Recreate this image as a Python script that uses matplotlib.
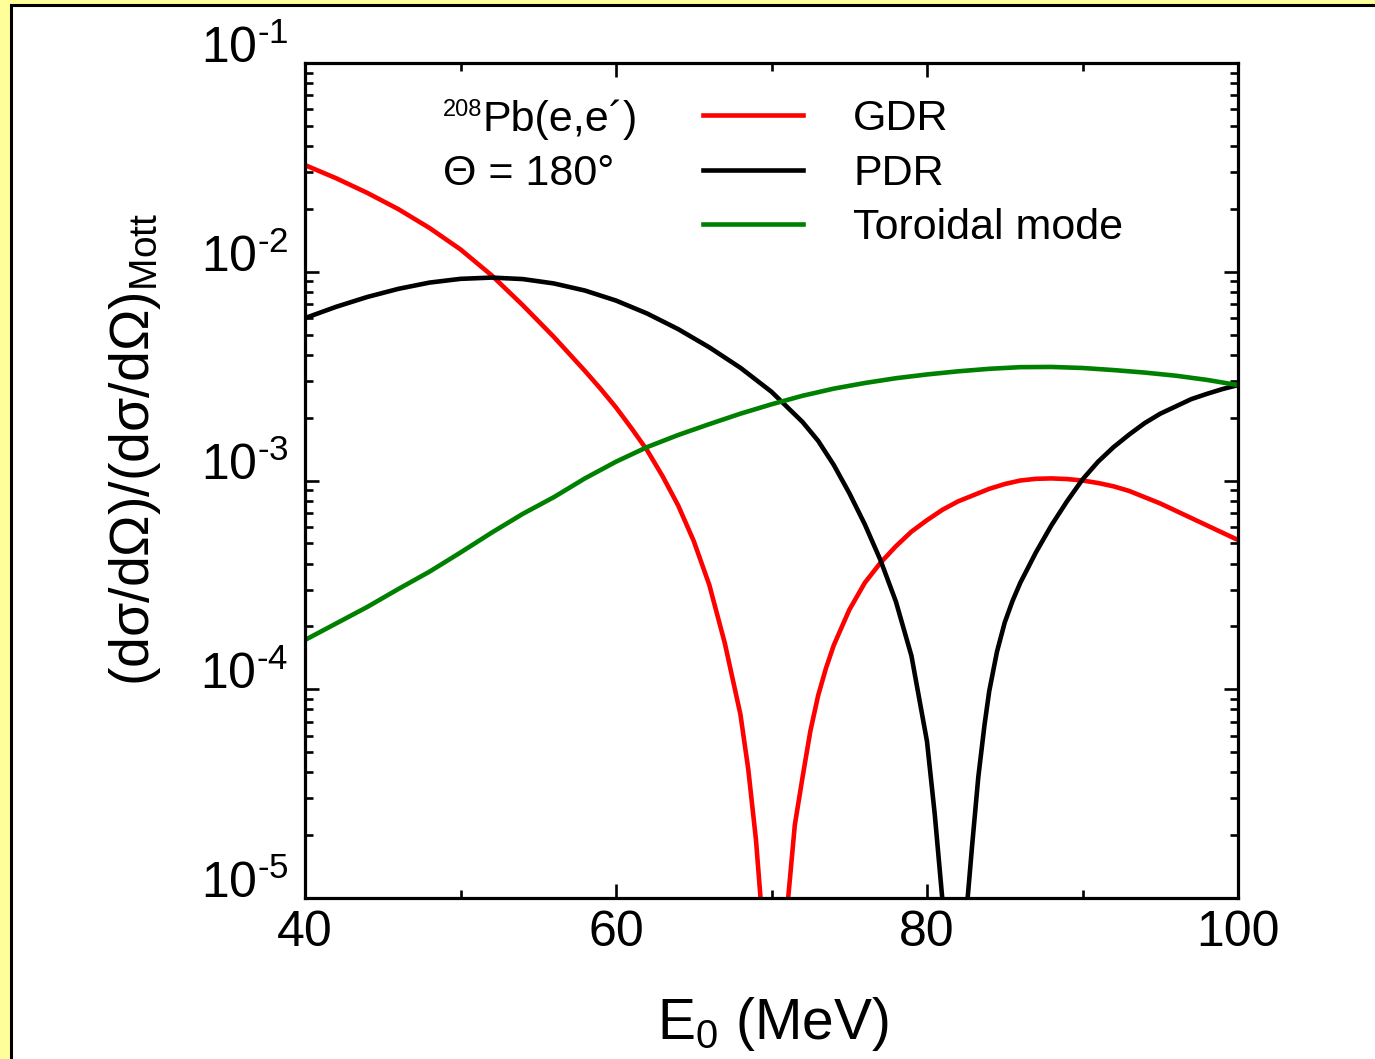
import matplotlib
matplotlib.use("Agg")
import matplotlib.pyplot as plt
import matplotlib.patches as mpatches
from matplotlib.ticker import FixedLocator, LogLocator, NullFormatter
import numpy as np

plt.rcParams['font.family'] = ['Liberation Sans', 'DejaVu Sans']
plt.rcParams['mathtext.fontset'] = 'custom'
plt.rcParams['mathtext.rm'] = 'Liberation Sans'
plt.rcParams['mathtext.it'] = 'Liberation Sans:italic'
plt.rcParams['mathtext.bf'] = 'Liberation Sans:bold'

# ---------------- data (values as log10 of the ratio) ----------------
gdr_e1 = [40, 42, 44, 46, 48, 50, 52, 54, 56, 58, 59, 60, 61, 62, 63, 64, 65, 66,
          67, 68, 68.5, 69, 69.4]
gdr_log1 = [-1.489, -1.552, -1.622, -1.70, -1.79, -1.893, -2.017, -2.16, -2.312,
            -2.475, -2.56, -2.65, -2.75, -2.855, -2.98, -3.12, -3.29, -3.50, -3.78,
            -4.12, -4.38, -4.72, -5.10]
gdr_e2 = [70.95, 71.5, 72, 72.5, 73, 73.5, 74, 75, 76, 77, 78, 79, 80, 81, 82, 83,
          84, 85, 86, 87, 88, 89, 90, 91, 92, 93, 94, 95, 96, 97, 98, 99, 100]
gdr_log2 = [-5.10, -4.65, -4.42, -4.20, -4.03, -3.90, -3.79, -3.62, -3.49, -3.395,
            -3.315, -3.245, -3.19, -3.14, -3.10, -3.07, -3.04, -3.017, -3.00, -2.992,
            -2.99, -2.993, -3.00, -3.012, -3.028, -3.05, -3.08, -3.11, -3.145, -3.18,
            -3.215, -3.25, -3.285]

pdr_e = [40, 42, 44, 46, 48, 50, 52, 54, 56, 58, 60, 62, 64, 66, 68, 70, 72, 73,
         74, 75, 76, 77, 78, 79, 80, 80.5, 81.1, 82.5, 82.9, 83.3, 83.7, 84, 84.5,
         85, 85.5, 86, 87, 88, 89, 90, 91, 92, 93, 94, 95, 96, 97, 98, 99, 100]
pdr_log = [-2.222, -2.168, -2.121, -2.082, -2.052, -2.034, -2.028, -2.035, -2.056,
           -2.09, -2.138, -2.20, -2.275, -2.362, -2.46, -2.575, -2.72, -2.81, -2.925,
           -3.06, -3.21, -3.38, -3.58, -3.84, -4.25, -4.60, -5.10, -5.10, -4.75,
           -4.42, -4.17, -4.01, -3.82, -3.68, -3.577, -3.49, -3.345, -3.215, -3.10,
           -2.995, -2.91, -2.84, -2.78, -2.725, -2.68, -2.645, -2.61, -2.585, -2.562,
           -2.543]

tor_e = [40, 42, 44, 46, 48, 50, 52, 54, 56, 58, 60, 62, 64, 66, 68, 70, 72, 74,
         76, 78, 80, 82, 84, 86, 88, 90, 92, 94, 96, 98, 100]
tor_log = [-3.764, -3.685, -3.606, -3.52, -3.437, -3.345, -3.25, -3.16, -3.08,
           -2.99, -2.91, -2.84, -2.782, -2.73, -2.68, -2.635, -2.594, -2.56, -2.533,
           -2.51, -2.492, -2.477, -2.465, -2.457, -2.456, -2.461, -2.471, -2.483,
           -2.498, -2.518, -2.543]

series_labels = ['GDR', 'PDR', 'Toroidal mode']
x_ticks = [40, 60, 80, 100]
x_minor = [50, 70, 90]
y_ticks = [1e-5, 1e-4, 1e-3, 1e-2, 1e-1]
y_tick_labels = [r'$\mathregular{10^{\text{-}5}}$', r'$\mathregular{10^{\text{-}4}}$',
                 r'$\mathregular{10^{\text{-}3}}$', r'$\mathregular{10^{\text{-}2}}$',
                 r'$\mathregular{10^{\text{-}1}}$']

# ---------------- figure ----------------
W, H = 1375, 1059
fig = plt.figure(figsize=(W / 100, H / 100), dpi=100, facecolor='#FFFF99')
panel = mpatches.Rectangle((11 / W, -0.05), 1.2, 1 - 5 / H + 0.05,
                           transform=fig.transFigure, facecolor='white',
                           edgecolor='black', lw=2.2, zorder=-10)
fig.add_artist(panel)

ax = fig.add_axes([305 / W, 1 - 898 / H, 933 / W, 835 / H])
ax.set_facecolor('white')

lw = 3.3
red = '#FF0000'
green = '#008000'
l1, = ax.plot(gdr_e1, 10 ** np.array(gdr_log1), color=red, lw=lw, label=series_labels[0])
ax.plot(gdr_e2, 10 ** np.array(gdr_log2), color=red, lw=lw)
l2, = ax.plot(pdr_e, 10 ** np.array(pdr_log), color='black', lw=lw, label=series_labels[1])
l3, = ax.plot(tor_e, 10 ** np.array(tor_log), color=green, lw=lw, label=series_labels[2])

ax.set_yscale('log')
ax.set_xlim(40, 100)
ax.set_ylim(1e-5, 1e-1)

ax.xaxis.set_major_locator(FixedLocator(x_ticks))
ax.xaxis.set_minor_locator(FixedLocator(x_minor))
ax.set_xticklabels([str(v) for v in x_ticks])
ax.set_yticks(y_ticks, labels=y_tick_labels)
ax.yaxis.set_minor_locator(LogLocator(base=10, subs=np.arange(2, 10)))
ax.yaxis.set_minor_formatter(NullFormatter())

ax.tick_params(which='both', direction='in', top=True, right=True, width=1.9,
               color='black')
ax.tick_params(which='major', length=10)
ax.tick_params(which='minor', length=5.5)
ax.tick_params(axis='x', which='major', labelsize=36, pad=8.5)
ax.tick_params(axis='y', which='major', labelsize=36, pad=12)
for lbl in ax.get_yticklabels():
    lbl.set_va('baseline')

for s in ax.spines.values():
    s.set_linewidth(2.3)

ax.set_xlabel(r'$\mathregular{E_0}$ (MeV)', fontsize=41, va='baseline')
ax.xaxis.set_label_coords(0.5016, (898 - 1039) / 835)
ax.set_ylabel(r'$\mathregular{(dσ/dΩ)/(dσ/dΩ)_{Mott}}$', fontsize=40, va='center')
ax.yaxis.set_label_coords((135 - 305) / 933, (898 - 450) / 835)

fig.text(443 / W, 1 - 116 / H, '208', fontsize=17, ha='left', va='baseline')
fig.text(483 / W, 1 - 131 / H, 'Pb(e,e´)', fontsize=31, ha='left', va='baseline')
fig.text(443 / W, 1 - 185 / H, 'Θ = 180°', fontsize=31, ha='left', va='baseline')

ax.legend(handles=[l1, l2, l3], loc='upper left', bbox_to_anchor=(703 / W, 1 - 99 / H),
          bbox_transform=fig.transFigure, frameon=False, fontsize=31,
          handlelength=2.33, handletextpad=1.16, labelspacing=0.34,
          borderpad=0, borderaxespad=0)

fig.savefig('out.png', dpi=100, facecolor=fig.get_facecolor())
